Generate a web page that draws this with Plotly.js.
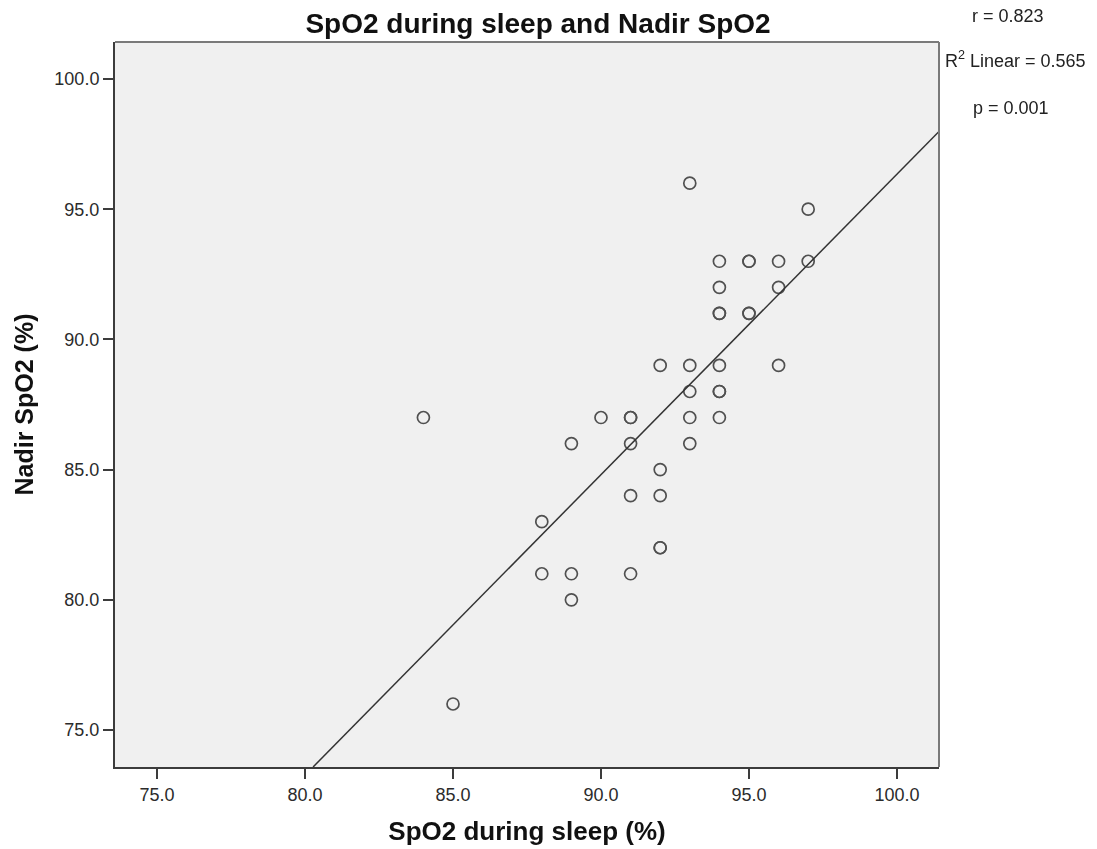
<!DOCTYPE html>
<html>
<head>
<meta charset="utf-8">
<script src="https://cdn.plot.ly/plotly-3.0.1.min.js"></script>
<style>html,body{margin:0;padding:0;background:#fff;}#chart{width:1097px;height:849px;}</style>
</head>
<body>
<div id="chart"></div>
<script>
// Data
const spo2Sleep = [84, 85, 88, 88, 89, 89, 89, 90, 91, 91, 91, 91, 91,
  92, 92, 92, 92, 92, 93, 93, 93, 93, 93, 94, 94, 94, 94, 94, 94, 94, 94,
  95, 95, 95, 95, 96, 96, 96, 97, 97];
const nadirSpo2 = [87, 76, 83, 81, 86, 81, 80, 87, 87, 87, 86, 84, 81,
  89, 85, 84, 82, 82, 96, 89, 88, 87, 86, 93, 92, 91, 91, 89, 88, 88, 87,
  93, 93, 91, 91, 93, 92, 89, 95, 93];
const tickValues = [75, 80, 85, 90, 95, 100];
const tickLabels = ["75.0", "80.0", "85.0", "90.0", "95.0", "100.0"];
const statLabels = ["r = 0.823", "R<sup>2</sup> Linear = 0.565", "p = 0.001"];

// layout constants
const W = 1097, H = 849;
const M = {l: 115, r: 158, t: 42, b: 82};
const axisRange = [73.58, 101.42];
const FONT = "Liberation Sans, Arial, sans-serif";

// least squares fit from the data
const n = spo2Sleep.length;
const mx = spo2Sleep.reduce((a, b) => a + b, 0) / n;
const my = nadirSpo2.reduce((a, b) => a + b, 0) / n;
let sxy = 0, sxx = 0;
for (let i = 0; i < n; i++) {
  sxy += (spo2Sleep[i] - mx) * (nadirSpo2[i] - my);
  sxx += (spo2Sleep[i] - mx) ** 2;
}
const slope = sxy / sxx;
const intercept = my - slope * mx;
const fx0 = Math.max(axisRange[0], (axisRange[0] - intercept) / slope);
const fx1 = Math.min(axisRange[1], (axisRange[1] - intercept) / slope);
const fitX = [fx0, fx1];
const fitY = fitX.map(x => intercept + slope * x);

const pw = W - M.l - M.r, ph = H - M.t - M.b;
const px = x => (x - M.l) / pw;
const py = y => (H - M.b - y) / ph;

const traces = [
  {
    x: fitX, y: fitY, type: "scatter", mode: "lines",
    line: {color: "#333333", width: 1.5}, hoverinfo: "skip", showlegend: false
  },
  {
    x: spo2Sleep, y: nadirSpo2, type: "scatter", mode: "markers",
    marker: {symbol: "circle-open", size: 12, color: "#333333", line: {width: 1.7, color: "#333333"}},
    opacity: 0.85,
    showlegend: false
  }
];

const axisCommon = {
  range: axisRange, tickvals: tickValues, ticktext: tickLabels,
  showgrid: false, zeroline: false, showline: true, linecolor: "#3c3c3c", linewidth: 2,
  ticks: "outside", ticklen: 10, tickwidth: 2, tickcolor: "#3c3c3c",
  tickfont: {family: FONT, size: 18, color: "#2b2b2b"}
};

const layout = {
  width: W, height: H,
  margin: M,
  paper_bgcolor: "#ffffff", plot_bgcolor: "#f0f0f0",
  font: {family: FONT, color: "#000"},
  title: {
    text: "<b>SpO2 during sleep and Nadir SpO2</b>",
    font: {family: FONT, size: 28, color: "#111"},
    x: 538 / W, xref: "container", xanchor: "center",
    y: 1 - 23 / H, yref: "container", yanchor: "middle"
  },
  xaxis: Object.assign({}, axisCommon, {
    title: {text: "<b>SpO2 during sleep (%)</b>", font: {family: FONT, size: 26, color: "#111"}, standoff: 18}
  }),
  yaxis: Object.assign({}, axisCommon, {
    title: {text: "<b>Nadir SpO2 (%)</b>", font: {family: FONT, size: 25, color: "#111"}, standoff: 14}
  }),
  shapes: [
    {type: "line", xref: "paper", yref: "paper", x0: 0, x1: 1, y0: 1, y1: 1, line: {color: "#7a7a7a", width: 2}},
    {type: "line", xref: "paper", yref: "paper", x0: 1, x1: 1, y0: 0, y1: 1, line: {color: "#7a7a7a", width: 2}}
  ],
  annotations: [
    {text: statLabels[0], xref: "paper", yref: "paper", x: px(1008), y: py(16), xanchor: "center", yanchor: "middle", showarrow: false, font: {family: FONT, size: 18, color: "#222"}},
    {text: statLabels[1], xref: "paper", yref: "paper", x: px(1015), y: py(60), xanchor: "center", yanchor: "middle", showarrow: false, font: {family: FONT, size: 18, color: "#222"}},
    {text: statLabels[2], xref: "paper", yref: "paper", x: px(1011), y: py(108), xanchor: "center", yanchor: "middle", showarrow: false, font: {family: FONT, size: 18, color: "#222"}}
  ]
};

Plotly.newPlot("chart", traces, layout, {displayModeBar: false, staticPlot: true});
</script>
</body>
</html>
